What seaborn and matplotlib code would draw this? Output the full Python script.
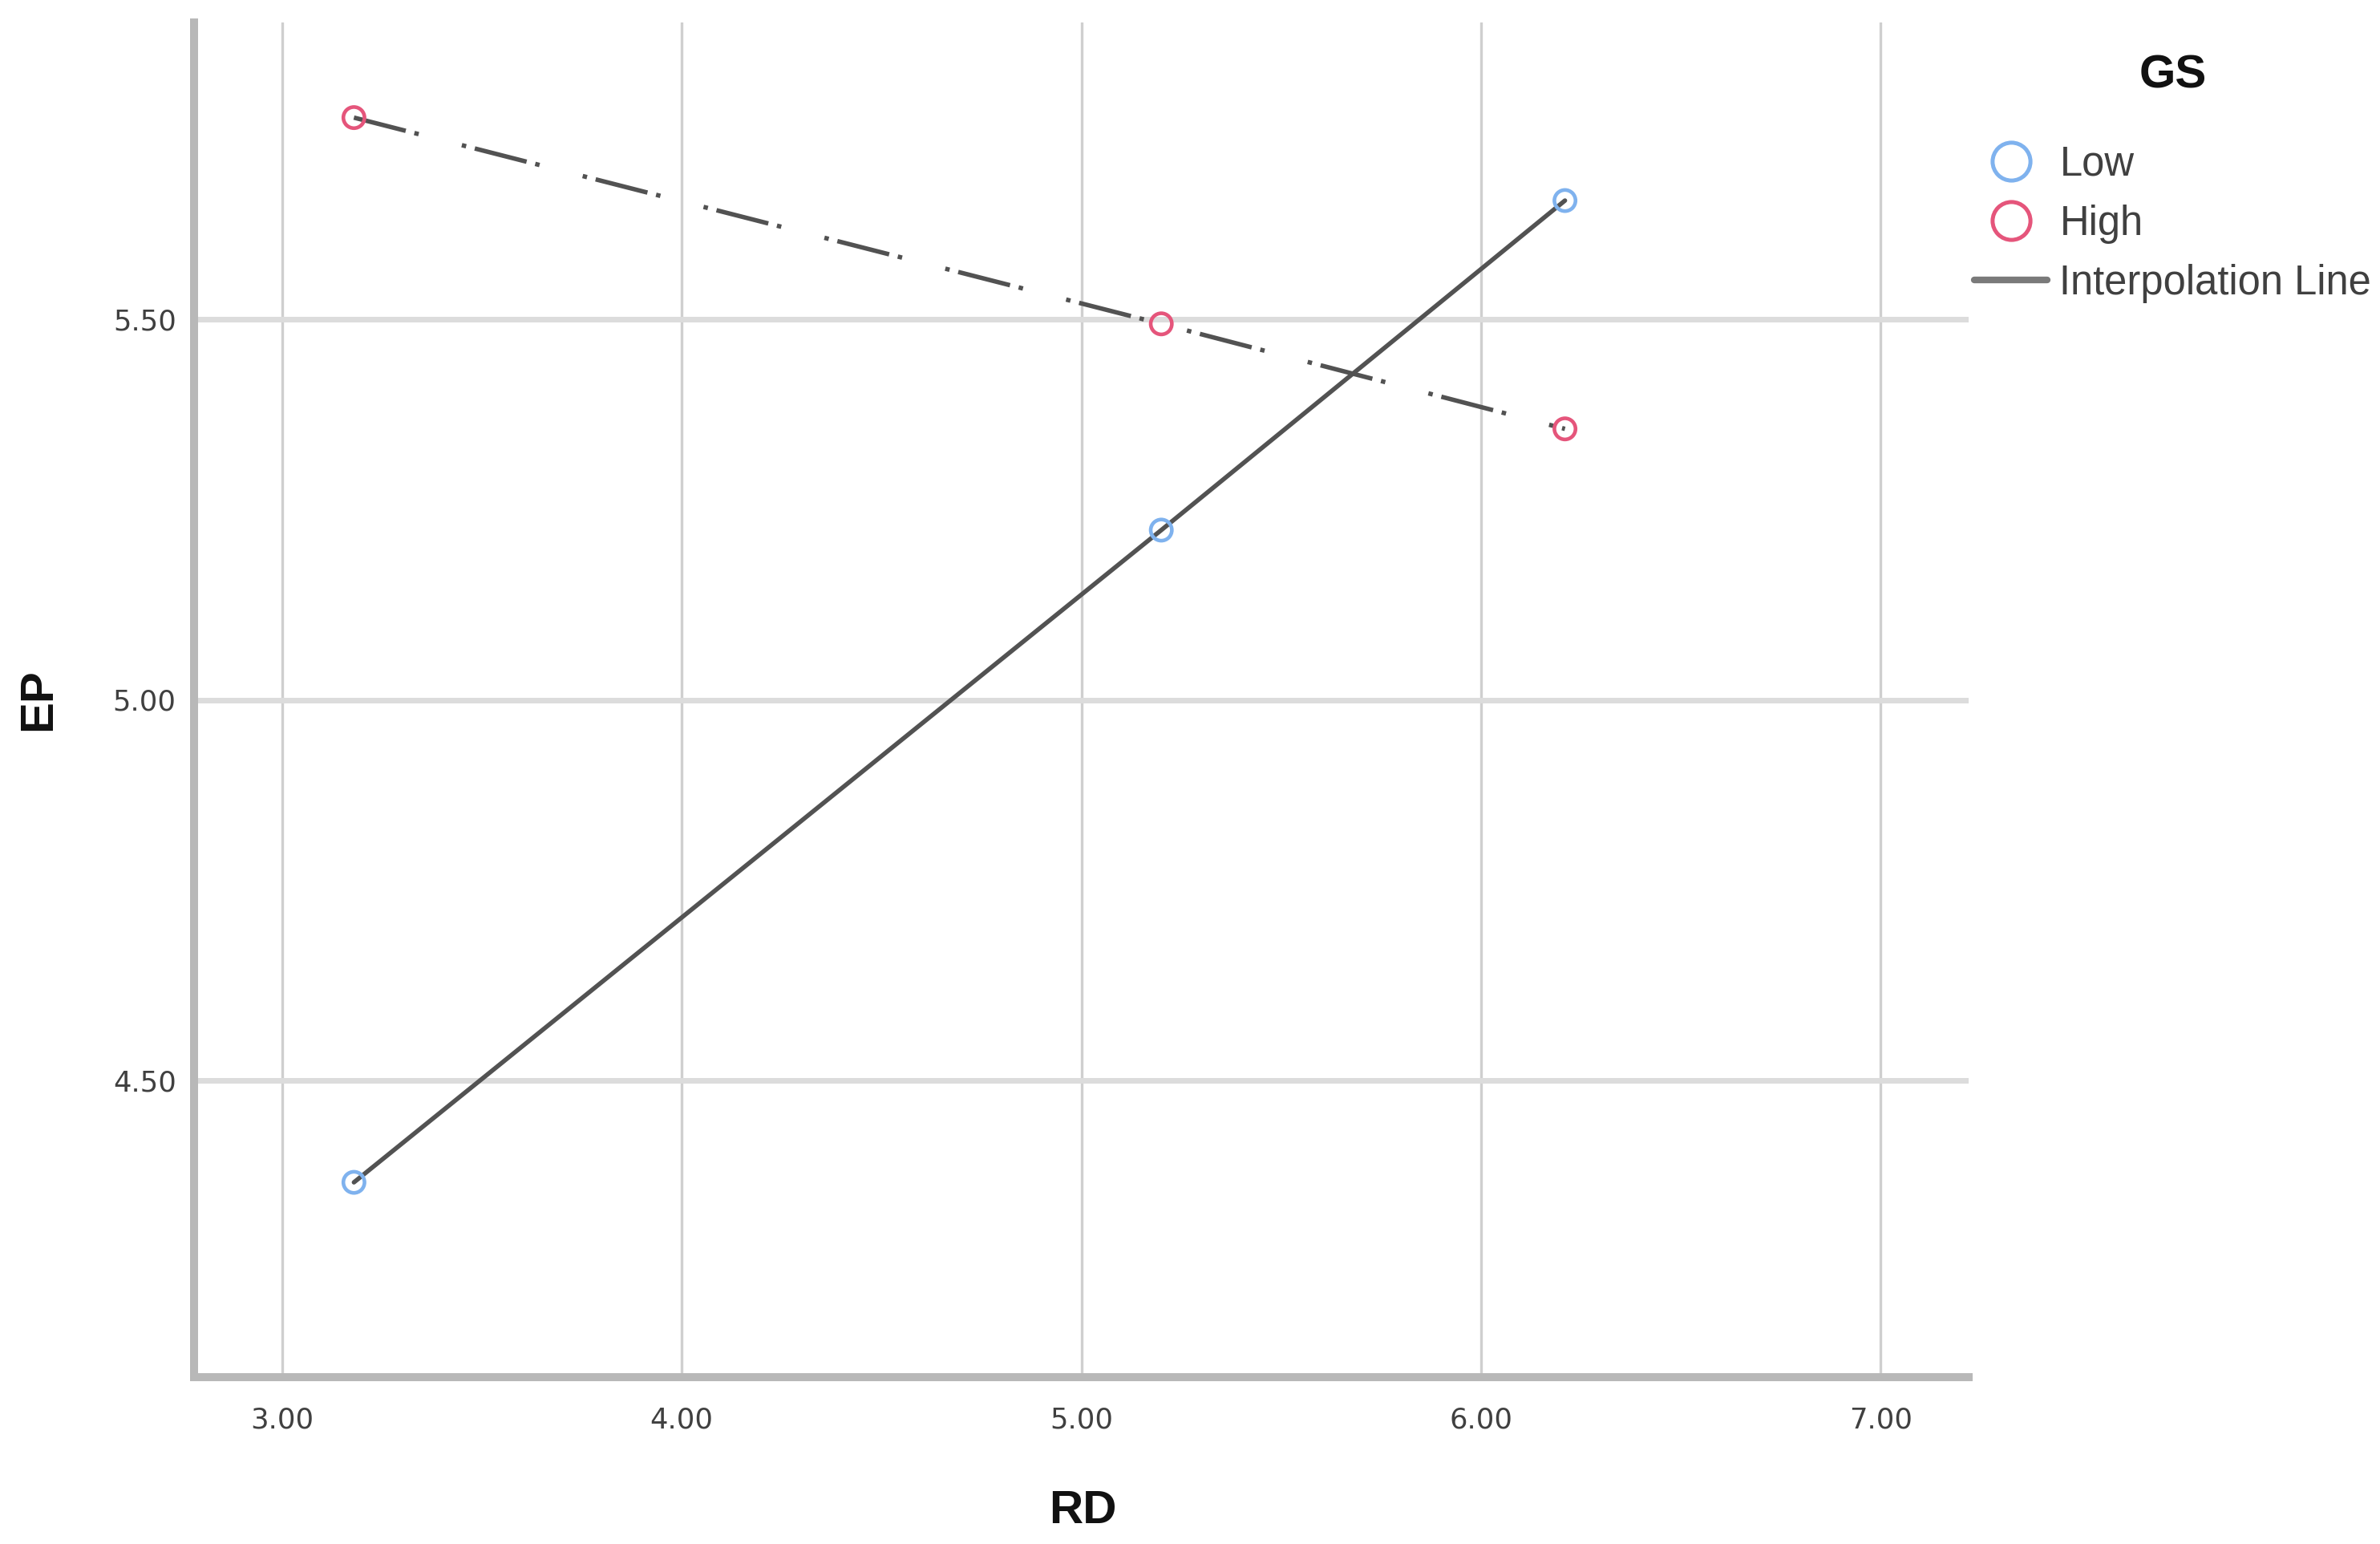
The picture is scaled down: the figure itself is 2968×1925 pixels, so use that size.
import matplotlib
matplotlib.use("Agg")
import matplotlib.pyplot as plt
import seaborn as sns
import pandas as pd
from matplotlib.lines import Line2D

# ---- data ----
rd_values = [3.18, 5.20, 6.21]
ep_low = [4.366, 5.223, 5.656]
ep_high = [5.765, 5.494, 5.356]
groups = ["Low", "High"]
x_ticks = [3.0, 4.0, 5.0, 6.0, 7.0]
y_ticks = [4.5, 5.0, 5.5]

df = pd.DataFrame({
    "RD": rd_values + rd_values,
    "EP": ep_low + ep_high,
    "GS": ["Low"] * 3 + ["High"] * 3,
})

sns.set_theme(style="white")
plt.rcParams["font.family"] = ["Liberation Sans", "DejaVu Sans"]

DPI = 100
W, H = 2968, 1925
fig = plt.figure(figsize=(W / DPI, H / DPI), dpi=DPI)
L, R, T, B = 242, 2455, 28, 1717
ax = fig.add_axes([L / W, 1 - B / H, (R - L) / W, (B - T) / H])

palette = {"Low": "#7fb2ee", "High": "#e5557b"}
line_col = "#525252"

# interpolation lines
sns.lineplot(data=df, x="RD", y="EP", style="GS", style_order=groups,
             dashes={"Low": "", "High": (12, 2, 1, 10, 1, 2)},
             color=line_col, linewidth=4.0, legend=False, ax=ax,
             sort=True, estimator=None, zorder=3)

# hollow circle markers
sns.scatterplot(data=df, x="RD", y="EP", hue="GS", hue_order=groups,
                palette=palette, s=360, marker="o", linewidth=3.3,
                legend=False, ax=ax, zorder=4)
coll = ax.collections[-1]
fcs = coll.get_facecolors()
coll.set_edgecolors(fcs)
coll.set_facecolors("none")

ax.set_xlim(2.78, 7.22)
ax.set_ylim(4.11, 5.89)
ax.set_xticks(x_ticks)
ax.set_yticks(y_ticks)
ax.set_xticklabels([f"{v:.2f}" for v in x_ticks])
ax.set_yticklabels([f"{v:.2f}" for v in y_ticks])

for lab in ax.get_xticklabels() + ax.get_yticklabels():
    lab.set_fontfamily("DejaVu Sans")
    lab.set_fontsize(25.5)
    lab.set_color("#404040")
ax.tick_params(axis="x", length=0, pad=26)
ax.tick_params(axis="y", length=0, pad=16)

ax.xaxis.grid(True, color="#cfcfcf", linewidth=2.4)
ax.yaxis.grid(True, color="#dcdcdc", linewidth=5.0)
ax.set_axisbelow(True)

for side in ["top", "right"]:
    ax.spines[side].set_visible(False)
for side in ["left", "bottom"]:
    ax.spines[side].set_color("#b8b8b8")
    ax.spines[side].set_linewidth(7.2)

ax.set_xlabel("RD", fontsize=42, fontweight="bold", color="#111111")
ax.set_ylabel("EP", fontsize=42, fontweight="bold", color="#111111")
ax.xaxis.set_label_coords(0.5007, -0.083)
ax.yaxis.set_label_coords(-0.0755, 0.5)

handles = [
    Line2D([], [], linestyle="none", marker="o", markersize=34,
           markerfacecolor="none", markeredgecolor=palette["Low"], markeredgewidth=3.6),
    Line2D([], [], linestyle="none", marker="o", markersize=34,
           markerfacecolor="none", markeredgecolor=palette["High"], markeredgewidth=3.6),
    Line2D([], [], color="#7a7a7a", linewidth=6),
]
leg = fig.legend(handles, ["Low", "High", "Interpolation Line"],
                 title="GS", loc="upper left",
                 bbox_to_anchor=(2462 / W, 1 - 68 / H),
                 frameon=False, fontsize=36.5, title_fontsize=42,
                 handlelength=1.8, handletextpad=0.3, labelspacing=0.5,
                 borderpad=0, borderaxespad=0)
leg.get_title().set_fontweight("bold")
leg.get_title().set_color("#111111")
for t in leg.get_texts():
    t.set_color("#404040")
leg._legend_box.sep = 42

fig.savefig("out.png", dpi=DPI, facecolor="white")
